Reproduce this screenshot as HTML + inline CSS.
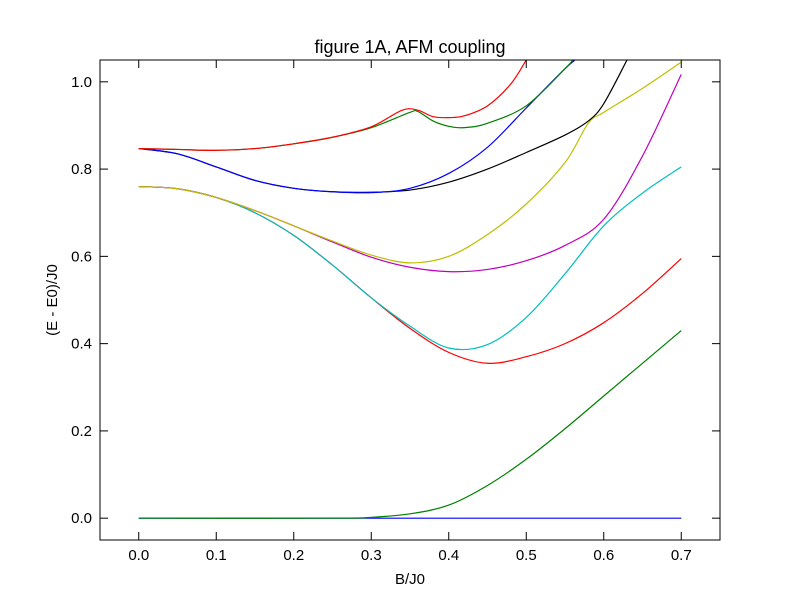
<!DOCTYPE html>
<html><head><meta charset="utf-8"><style>
body{margin:0;background:#fff;}
svg text{font-family:"Liberation Sans","DejaVu Sans",sans-serif;}
</style></head><body>
<svg id="chart" width="800" height="600" viewBox="0 0 800 600">
<rect width="800" height="600" fill="#fff"/>
<defs><clipPath id="clip"><rect x="100" y="60" width="620" height="480"/></clipPath></defs>
<text x="410" y="53" text-anchor="middle" font-size="18">figure 1A, AFM coupling</text>
<g id="lines" clip-path="url(#clip)"></g>
<g id="axes"></g>
<text x="410" y="584" text-anchor="middle" font-size="15">B/J0</text>
<text transform="translate(57,300) rotate(-90)" text-anchor="middle" font-size="15">(E - E0)/J0</text>
</svg>
<script>
const xTicks=[0.0,0.1,0.2,0.3,0.4,0.5,0.6,0.7];
const yTicks=[0.0,0.2,0.4,0.6,0.8,1.0];
const sBlueLow=[[0,0],[0.7,0]];
const sGreenLow=[[0,0],[0.25,0],[0.3,0.002],[0.35,0.01],[0.4,0.03],[0.45,0.075],[0.5,0.135],[0.55,0.205],[0.6,0.28],[0.65,0.355],[0.7,0.43]];
const sRedLow=[[0,0.76],[0.05,0.755],[0.1,0.735],[0.15,0.70],[0.2,0.648],[0.25,0.58],[0.3,0.505],[0.35,0.435],[0.4,0.38],[0.45,0.355],[0.5,0.37],[0.55,0.40],[0.6,0.448],[0.65,0.515],[0.7,0.595]];
const sCyan=[[0,0.76],[0.05,0.755],[0.1,0.735],[0.15,0.70],[0.2,0.648],[0.25,0.58],[0.3,0.505],[0.35,0.44],[0.4,0.39],[0.45,0.398],[0.5,0.46],[0.55,0.56],[0.6,0.67],[0.65,0.745],[0.7,0.805]];
const sYellow=[[0,0.76],[0.05,0.755],[0.1,0.735],[0.15,0.705],[0.2,0.67],[0.25,0.635],[0.3,0.603],[0.35,0.585],[0.4,0.60],[0.45,0.65],[0.5,0.72],[0.55,0.815],[0.58,0.905],[0.6,0.93],[0.65,0.985],[0.7,1.045]];
const sMagenta=[[0,0.76],[0.05,0.755],[0.1,0.735],[0.15,0.705],[0.2,0.67],[0.25,0.633],[0.3,0.598],[0.35,0.575],[0.4,0.565],[0.45,0.57],[0.5,0.59],[0.55,0.625],[0.6,0.685],[0.65,0.83],[0.7,1.017]];
const sBlueUp=[[0,0.847],[0.05,0.835],[0.1,0.805],[0.15,0.774],[0.2,0.756],[0.25,0.748],[0.3,0.746],[0.35,0.756],[0.4,0.79],[0.45,0.85],[0.5,0.94],[0.55,1.03],[0.57,1.06]];
const sBlack=[[0,0.847],[0.05,0.835],[0.1,0.805],[0.15,0.774],[0.2,0.756],[0.25,0.748],[0.3,0.747],[0.35,0.752],[0.4,0.77],[0.45,0.80],[0.5,0.838],[0.55,0.878],[0.58,0.91],[0.6,0.95],[0.63,1.05]];
const sGreenUp=[[0,0.847],[0.05,0.845],[0.1,0.843],[0.15,0.847],[0.2,0.858],[0.25,0.873],[0.3,0.895],[0.35,0.93],[0.36,0.932],[0.38,0.91],[0.4,0.898],[0.42,0.895],[0.45,0.905],[0.5,0.945],[0.55,1.03],[0.56,1.05]];
const sRedUp=[[0,0.847],[0.05,0.845],[0.1,0.843],[0.15,0.847],[0.2,0.858],[0.25,0.873],[0.3,0.897],[0.34,0.935],[0.36,0.935],[0.38,0.92],[0.4,0.918],[0.42,0.922],[0.45,0.945],[0.48,0.995],[0.5,1.05]];
const series=[[sBlueLow,'#0000ff','series-blue-ground'],[sGreenLow,'#008000','series-green-low'],[sRedLow,'#ff0000','series-red-low'],[sCyan,'#00bfbf','series-cyan'],[sMagenta,'#bf00bf','series-magenta'],[sYellow,'#bfbf00','series-yellow'],[sBlack,'#000000','series-black'],[sBlueUp,'#0000ff','series-blue-up'],[sGreenUp,'#008000','series-green-up'],[sRedUp,'#ff0000','series-red-up']];
const X=v=>100+(v+0.05)*775, Y=v=>540-(v+0.05)*480/1.1;
const NS='http://www.w3.org/2000/svg';
const lines=document.getElementById('lines'), axes=document.getElementById('axes');
function smooth(pts){
 let d='M'+pts[0][0]+','+pts[0][1];
 for(let i=0;i<pts.length-1;i++){
  const p0=pts[Math.max(0,i-1)],p1=pts[i],p2=pts[i+1],p3=pts[Math.min(pts.length-1,i+2)];
  const c1=[p1[0]+(p2[0]-p0[0])/6,p1[1]+(p2[1]-p0[1])/6];
  const c2=[p2[0]-(p3[0]-p1[0])/6,p2[1]-(p3[1]-p1[1])/6];
  d+=' C'+c1[0]+','+c1[1]+' '+c2[0]+','+c2[1]+' '+p2[0]+','+p2[1];
 }
 return d;
}
series.forEach(([d,c,n])=>{
 const p=document.createElementNS(NS,'path');
 p.setAttribute('d',smooth(d.map(q=>[X(q[0]),Y(q[1])])));
 p.setAttribute('fill','none');p.setAttribute('stroke',c);p.setAttribute('stroke-width','1.2');
 
 
 lines.appendChild(p);
});
const fr=document.createElementNS(NS,'rect');
fr.setAttribute('x',100);fr.setAttribute('y',60);fr.setAttribute('width',620);fr.setAttribute('height',480);
fr.setAttribute('fill','none');fr.setAttribute('stroke','#000');


axes.appendChild(fr);
function ln(x1,y1,x2,y2){const l=document.createElementNS(NS,'line');l.setAttribute('x1',x1);l.setAttribute('y1',y1);l.setAttribute('x2',x2);l.setAttribute('y2',y2);l.setAttribute('stroke','#000');axes.appendChild(l);return l;}
function tx(x,y,s,a){const t=document.createElementNS(NS,'text');t.setAttribute('x',x);t.setAttribute('y',y);t.setAttribute('text-anchor',a);t.setAttribute('font-size','15');t.textContent=s;axes.appendChild(t);return t;}
xTicks.forEach(v=>{const x=X(v);
 const a=ln(x,540,x,532);
 const b=ln(x,60,x,68);
 const t=tx(x,560,v.toFixed(1),'middle');});
yTicks.forEach(v=>{const y=Y(v);
 const a=ln(100,y,108,y);
 const b=ln(720,y,712,y);
 const t=tx(92,y+5,v.toFixed(1),'end');});
</script>
</body></html>
